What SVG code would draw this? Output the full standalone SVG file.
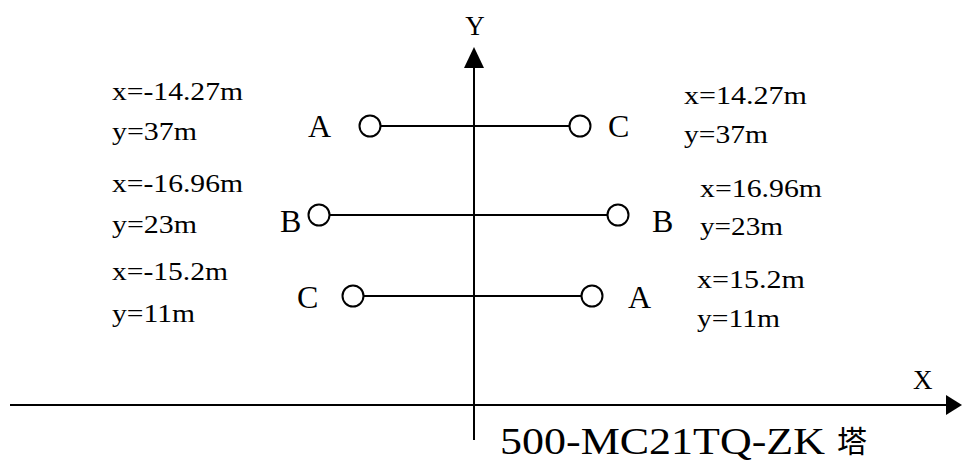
<svg xmlns="http://www.w3.org/2000/svg" width="962" height="461" viewBox="0 0 962 461">
<style>
.ln{stroke:#000;stroke-width:2;fill:none}
.nd{stroke:#000;stroke-width:2;fill:#fff}
.lb{font-family:"Liberation Serif","Times New Roman",serif;font-size:32px;fill:#000}
.co{font-family:"Liberation Serif","Times New Roman",serif;font-size:25px;fill:#000}
.ax{font-family:"Liberation Serif","Times New Roman",serif;font-size:27px;fill:#000}
.tt{font-family:"Liberation Serif","Noto Sans CJK SC",serif;font-size:37px;fill:#000}
.cjk{font-family:"Noto Sans CJK SC",sans-serif;font-size:30px;fill:#000}
</style>
<rect width="962" height="461" fill="#fff"/>
<g id="axes">
<line class="ln" x1="474" y1="66" x2="474" y2="440"/>
<polygon points="474,47 464,68 484,68" fill="#000"/>
<line class="ln" x1="10" y1="405" x2="948" y2="405"/>
<polygon points="962,405 946,395 946,415" fill="#000"/>
<text class="ax" x="475" y="35" text-anchor="middle">Y</text>
<text class="ax" x="913" y="389">X</text>
</g>
<g id="connectors">
<line class="ln" x1="381" y1="126" x2="569" y2="126"/>
<line class="ln" x1="330" y1="215" x2="607" y2="215"/>
<line class="ln" x1="364" y1="296" x2="581" y2="296"/>
</g>
<g id="node-A-top"><circle class="nd" cx="370" cy="126" r="10.5"/><text class="lb" x="308" y="137">A</text></g>
<g id="node-C-top"><circle class="nd" cx="580" cy="126" r="10.5"/><text class="lb" x="608" y="137">C</text></g>
<g id="node-B-left"><circle class="nd" cx="319" cy="215" r="10.5"/><text class="lb" x="280" y="232">B</text></g>
<g id="node-B-right"><circle class="nd" cx="618" cy="215" r="10.5"/><text class="lb" x="652" y="232">B</text></g>
<g id="node-C-bottom"><circle class="nd" cx="353" cy="296" r="10.5"/><text class="lb" x="297" y="308">C</text></g>
<g id="node-A-bottom"><circle class="nd" cx="592" cy="296" r="10.5"/><text class="lb" x="628" y="308">A</text></g>
<g id="coords-left">
<text class="co" x="112" y="100" textLength="131" lengthAdjust="spacingAndGlyphs">x=-14.27m</text>
<text class="co" x="112" y="140" textLength="85" lengthAdjust="spacingAndGlyphs">y=37m</text>
<text class="co" x="112" y="192" textLength="131" lengthAdjust="spacingAndGlyphs">x=-16.96m</text>
<text class="co" x="112" y="233" textLength="85" lengthAdjust="spacingAndGlyphs">y=23m</text>
<text class="co" x="112" y="280" textLength="116" lengthAdjust="spacingAndGlyphs">x=-15.2m</text>
<text class="co" x="112" y="322" textLength="83" lengthAdjust="spacingAndGlyphs">y=11m</text>
</g>
<g id="coords-right">
<text class="co" x="684" y="104" textLength="123" lengthAdjust="spacingAndGlyphs">x=14.27m</text>
<text class="co" x="684" y="143" textLength="84" lengthAdjust="spacingAndGlyphs">y=37m</text>
<text class="co" x="700" y="197" textLength="122" lengthAdjust="spacingAndGlyphs">x=16.96m</text>
<text class="co" x="700" y="235" textLength="83" lengthAdjust="spacingAndGlyphs">y=23m</text>
<text class="co" x="697" y="288" textLength="108" lengthAdjust="spacingAndGlyphs">x=15.2m</text>
<text class="co" x="697" y="327" textLength="83" lengthAdjust="spacingAndGlyphs">y=11m</text>
</g>
<g id="title">
<text class="tt" x="500" y="454" textLength="325" lengthAdjust="spacingAndGlyphs">500-MC21TQ-ZK</text>
<text class="cjk" x="837" y="452">塔</text>
</g>
</svg>
